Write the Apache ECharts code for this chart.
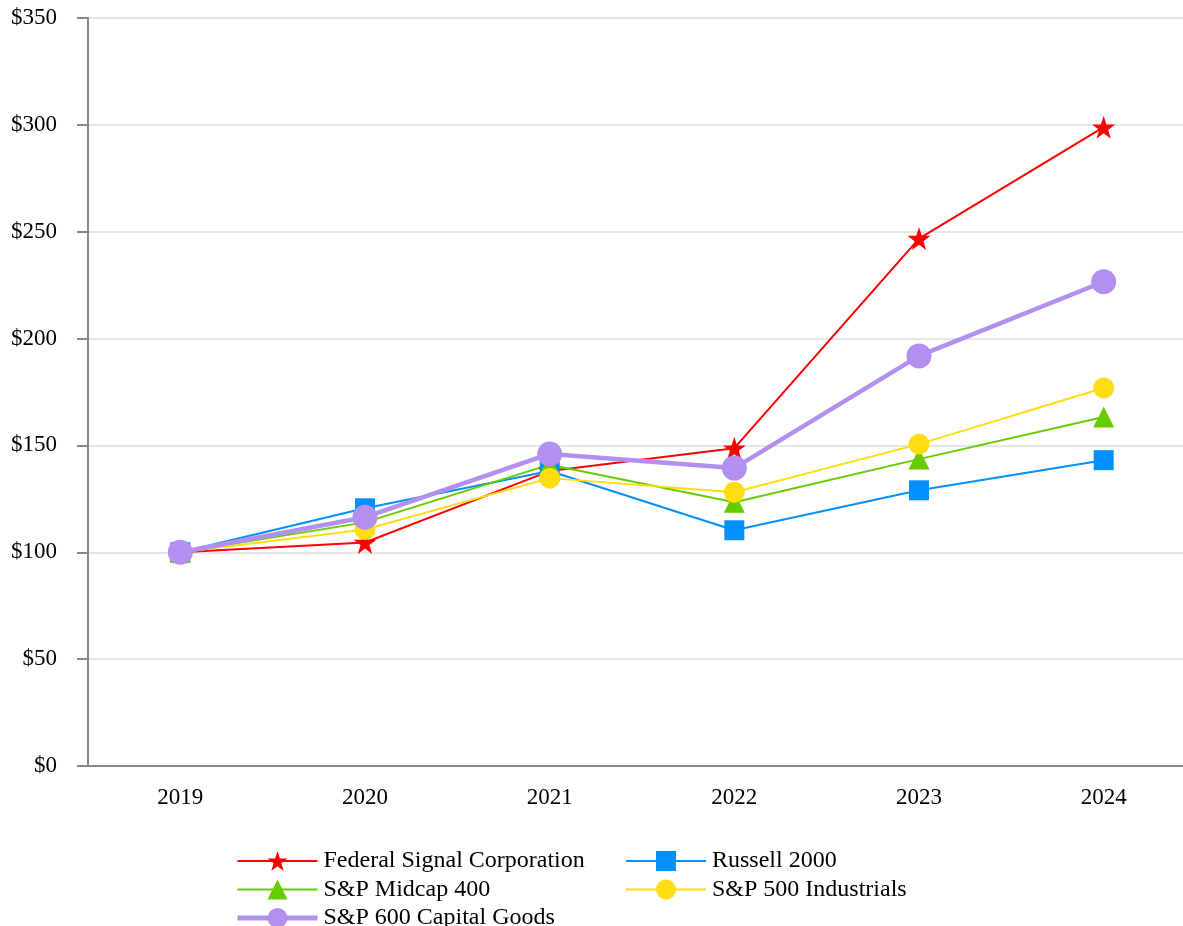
<!DOCTYPE html>
<html>
<head>
<meta charset="utf-8">
<script src="https://cdn.jsdelivr.net/npm/echarts@6/dist/echarts.min.js"></script>
<style>html,body{margin:0;padding:0;background:#fff;overflow:hidden}#c{width:1200px;height:960px}</style>
</head>
<body>
<div id="c"></div>
<script>
const categories = ['2019', '2020', '2021', '2022', '2023', '2024'];
const federalSignal = [100, 104.6, 138, 148.7, 246.8, 298.9];
const russell2000 = [100, 120.6, 138, 110.3, 129, 143.1];
const spMidcap400 = [100, 114, 141, 123.4, 143.6, 163.3];
const sp500Industrials = [100, 110.7, 134.7, 128.1, 150.6, 176.9];
const sp600CapitalGoods = [100, 116.4, 146, 139.4, 191.9, 226.6];
const yTicks = [0, 50, 100, 150, 200, 250, 300, 350];

const FONT = '"Liberation Serif", "Times New Roman", serif';
const chart = echarts.init(document.getElementById('c'), null, {renderer: 'canvas'});

function mk(name, data, color, symbol, size, width) {
  return {
    name, type: 'line', data, symbol, symbolSize: size, showSymbol: true,
    lineStyle: {color, width}, itemStyle: {color},
    emphasis: {disabled: true}, animation: false
  };
}

const STAR = 'path://M50,0 L61.8,35.3 L99,35.3 L69,57.1 L80.4,92.7 L50,70.9 L19.6,92.7 L31,57.1 L1,35.3 L38.2,35.3 Z';

const legendCommon = {
  orient: 'vertical', top: 849, padding: 0, itemWidth: 80, itemHeight: 25, itemGap: 4.5,
  textStyle: {fontFamily: FONT, fontSize: 24, color: '#000', lineHeight: 24, padding: [0, 0, 0, 1]}
};

chart.setOption({
  backgroundColor: '#fff',
  animation: false,
  grid: {left: 88, top: 18, width: 1108, height: 748, containLabel: false},
  xAxis: {
    type: 'category', data: categories, boundaryGap: true,
    axisLine: {lineStyle: {color: '#888', width: 2}},
    axisTick: {alignWithLabel: true, length: 10, lineStyle: {color: '#888', width: 2}},
    axisLabel: {fontFamily: FONT, fontSize: 23, color: '#000', margin: 20},
    splitLine: {show: false}
  },
  yAxis: {
    type: 'value', min: 0, max: 350, interval: 50,
    axisLine: {show: true, lineStyle: {color: '#888', width: 2}},
    axisTick: {show: true, length: 11, lineStyle: {color: '#888', width: 2}},
    axisLabel: {fontFamily: FONT, fontSize: 23, color: '#000', margin: 31,
      formatter: v => yTicks.includes(v) ? '$' + v : ''},
    splitLine: {lineStyle: {color: '#e6e6e6', width: 2}}
  },
  legend: [
    Object.assign({left: 235, data: [
      {name: 'Federal Signal Corporation', lineStyle: {width: 2}},
      {name: 'S&P Midcap 400', lineStyle: {width: 2}},
      {name: 'S&P 600 Capital Goods', lineStyle: {width: 5}}
    ]}, legendCommon),
    Object.assign({left: 625, data: [
      {name: 'Russell 2000', lineStyle: {width: 2}},
      {name: 'S&P 500 Industrials', lineStyle: {width: 2}}
    ]}, legendCommon)
  ],
  series: [
    mk('Federal Signal Corporation', federalSignal, '#ff0000', STAR, 23, 2),
    mk('Russell 2000', russell2000, '#0091ff', 'rect', 20, 2),
    mk('S&P Midcap 400', spMidcap400, '#66cc00', 'triangle', 21, 2),
    mk('S&P 500 Industrials', sp500Industrials, '#ffdd11', 'circle', 21, 2),
    mk('S&P 600 Capital Goods', sp600CapitalGoods, '#b38ff0', 'circle', 25, 4.5)
  ]
});
</script>
</body>
</html>
